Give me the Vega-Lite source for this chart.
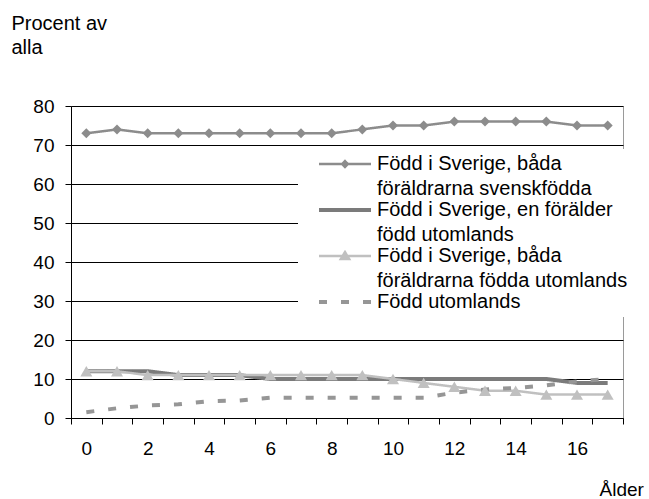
{
  "$schema": "https://vega.github.io/schema/vega-lite/v6.json",
  "width": 552,
  "height": 312,
  "autosize": {"type": "none"},
  "padding": {"left": 71, "top": 106, "right": 26, "bottom": 81},
  "background": "white",
  "config": {
    "font": "Liberation Sans",
    "view": {"stroke": "#9a9a9a", "strokeWidth": 1}
  },
  "data": {
    "values": [
      {"alder": 0, "Född i Sverige, båda föräldrarna svenskfödda": 73, "Född i Sverige, en förälder född utomlands": 12, "Född i Sverige, båda föräldrarna födda utomlands": 12, "Född utomlands": 1.5},
      {"alder": 1, "Född i Sverige, båda föräldrarna svenskfödda": 74, "Född i Sverige, en förälder född utomlands": 12, "Född i Sverige, båda föräldrarna födda utomlands": 12, "Född utomlands": 2.5},
      {"alder": 2, "Född i Sverige, båda föräldrarna svenskfödda": 73, "Född i Sverige, en förälder född utomlands": 12, "Född i Sverige, båda föräldrarna födda utomlands": 11, "Född utomlands": 3.2},
      {"alder": 3, "Född i Sverige, båda föräldrarna svenskfödda": 73, "Född i Sverige, en förälder född utomlands": 11, "Född i Sverige, båda föräldrarna födda utomlands": 11, "Född utomlands": 3.5},
      {"alder": 4, "Född i Sverige, båda föräldrarna svenskfödda": 73, "Född i Sverige, en förälder född utomlands": 11, "Född i Sverige, båda föräldrarna födda utomlands": 11, "Född utomlands": 4.3},
      {"alder": 5, "Född i Sverige, båda föräldrarna svenskfödda": 73, "Född i Sverige, en förälder född utomlands": 11, "Född i Sverige, båda föräldrarna födda utomlands": 11, "Född utomlands": 4.5},
      {"alder": 6, "Född i Sverige, båda föräldrarna svenskfödda": 73, "Född i Sverige, en förälder född utomlands": 10, "Född i Sverige, båda föräldrarna födda utomlands": 11, "Född utomlands": 5.2},
      {"alder": 7, "Född i Sverige, båda föräldrarna svenskfödda": 73, "Född i Sverige, en förälder född utomlands": 10, "Född i Sverige, båda föräldrarna födda utomlands": 11, "Född utomlands": 5.2},
      {"alder": 8, "Född i Sverige, båda föräldrarna svenskfödda": 73, "Född i Sverige, en förälder född utomlands": 10, "Född i Sverige, båda föräldrarna födda utomlands": 11, "Född utomlands": 5.2},
      {"alder": 9, "Född i Sverige, båda föräldrarna svenskfödda": 74, "Född i Sverige, en förälder född utomlands": 10, "Född i Sverige, båda föräldrarna födda utomlands": 11, "Född utomlands": 5.2},
      {"alder": 10, "Född i Sverige, båda föräldrarna svenskfödda": 75, "Född i Sverige, en förälder född utomlands": 10, "Född i Sverige, båda föräldrarna födda utomlands": 10, "Född utomlands": 5.2},
      {"alder": 11, "Född i Sverige, båda föräldrarna svenskfödda": 75, "Född i Sverige, en förälder född utomlands": 10, "Född i Sverige, båda föräldrarna födda utomlands": 9, "Född utomlands": 5.2},
      {"alder": 12, "Född i Sverige, båda föräldrarna svenskfödda": 76, "Född i Sverige, en förälder född utomlands": 10, "Född i Sverige, båda föräldrarna födda utomlands": 8, "Född utomlands": 6.5},
      {"alder": 13, "Född i Sverige, båda föräldrarna svenskfödda": 76, "Född i Sverige, en förälder född utomlands": 10, "Född i Sverige, båda föräldrarna födda utomlands": 7, "Född utomlands": 7.3},
      {"alder": 14, "Född i Sverige, båda föräldrarna svenskfödda": 76, "Född i Sverige, en förälder född utomlands": 10, "Född i Sverige, båda föräldrarna födda utomlands": 7, "Född utomlands": 7.7},
      {"alder": 15, "Född i Sverige, båda föräldrarna svenskfödda": 76, "Född i Sverige, en förälder född utomlands": 10, "Född i Sverige, båda föräldrarna födda utomlands": 6, "Född utomlands": 8.4},
      {"alder": 16, "Född i Sverige, båda föräldrarna svenskfödda": 75, "Född i Sverige, en förälder född utomlands": 9, "Född i Sverige, båda föräldrarna födda utomlands": 6, "Född utomlands": 9.4},
      {"alder": 17, "Född i Sverige, båda föräldrarna svenskfödda": 75, "Född i Sverige, en förälder född utomlands": 9, "Född i Sverige, båda föräldrarna födda utomlands": 6, "Född utomlands": 10}
    ]
  },
  "transform": [
    {"fold": ["Född i Sverige, båda föräldrarna svenskfödda", "Född i Sverige, en förälder född utomlands", "Född i Sverige, båda föräldrarna födda utomlands", "Född utomlands"], "as": ["grupp", "procent"]}
  ],
  "encoding": {
    "x": {
      "field": "alder",
      "type": "ordinal",
      "scale": {"type": "band", "paddingInner": 0, "paddingOuter": 0},
      "axis": {
        "title": "Ålder",
        "titleX": 528,
        "titleY": 77,
        "titleAlign": "left",
        "titleBaseline": "alphabetic",
        "titleFontSize": 19,
        "titleFontWeight": "normal",
        "titleColor": "black",
        "labelAngle": 0,
        "labelFontSize": 19,
        "labelColor": "black",
        "labelPadding": 15,
        "labelExpr": "datum.value % 2 === 0 ? datum.label : ''",
        "tickBand": "extent",
        "tickSize": 6,
        "tickColor": "black",
        "domainColor": "black",
        "grid": false
      }
    },
    "y": {
      "field": "procent",
      "type": "quantitative",
      "scale": {"domain": [0, 80], "nice": false},
      "axis": {
        "values": [0, 10, 20, 30, 40, 50, 60, 70, 80],
        "title": ["Procent av", "alla"],
        "titleAngle": 0,
        "titleAlign": "left",
        "titleBaseline": "alphabetic",
        "titleX": -60,
        "titleY": -77,
        "titleFontSize": 20,
        "titleFontWeight": "normal",
        "titleColor": "black",
        "titleLineHeight": 24,
        "labelFontSize": 19,
        "labelColor": "black",
        "labelPadding": 11,
        "tickSize": 6,
        "tickColor": "black",
        "domainColor": "black",
        "grid": true,
        "gridColor": "black",
        "gridOpacity": 1,
        "gridWidth": 1
      }
    }
  },
  "layer": [
    {
      "mark": {"type": "line"},
      "encoding": {
        "color": {
          "field": "grupp",
          "type": "nominal",
          "scale": {
            "domain": ["Född i Sverige, båda föräldrarna svenskfödda", "Född i Sverige, en förälder född utomlands", "Född i Sverige, båda föräldrarna födda utomlands", "Född utomlands"],
            "range": ["#8c8c8c", "#7b7b7b", "#c0c0c0", "#969696"]
          },
          "legend": {
            "title": null,
            "orient": "none",
            "legendX": 227,
            "legendY": 43,
            "fillColor": "white",
            "padding": 5,
            "symbolSize": 2704,
            "symbolOffset": 32,
            "symbolOpacity": 1,
            "labelOffset": 22,
            "labelFontSize": 20,
            "labelColor": "black",
            "labelLimit": 600,
            "labelBaseline": "middle",
            "rowPadding": 1,
            "labelExpr": "datum.label === 'Född i Sverige, båda föräldrarna svenskfödda' ? ['Född i Sverige, båda', 'föräldrarna svenskfödda'] : datum.label === 'Född i Sverige, en förälder född utomlands' ? ['Född i Sverige, en förälder', 'född utomlands'] : datum.label === 'Född i Sverige, båda föräldrarna födda utomlands' ? ['Född i Sverige, båda', 'föräldrarna födda utomlands'] : datum.label",
            "encode": {
              "symbols": {
                "update": {
                  "shape": {"signal": "datum.value === 'Född i Sverige, båda föräldrarna svenskfödda' ? 'M-1,0H1M-0.11,0L0,-0.11L0.11,0L0,0.11Z' : datum.value === 'Född i Sverige, båda föräldrarna födda utomlands' ? 'M-1,0H1M0,-0.15L0.16,0.12L-0.16,0.12Z' : 'M-1,0H1'"},
                  "fill": {"signal": "datum.value === 'Född i Sverige, båda föräldrarna svenskfödda' ? '#8c8c8c' : datum.value === 'Född i Sverige, båda föräldrarna födda utomlands' ? '#c0c0c0' : 'transparent'"},
                  "strokeWidth": {"signal": "datum.value === 'Född i Sverige, en förälder född utomlands' || datum.value === 'Född utomlands' ? 4 : 2.5"},
                  "strokeDash": {"signal": "datum.value === 'Född utomlands' ? [8, 14] : [1, 0]"}
                }
              },
              "labels": {
                "update": {
                  "lineHeight": {"value": 25}
                }
              }
            }
          }
        },
        "strokeDash": {
          "field": "grupp",
          "type": "nominal",
          "scale": {
            "domain": ["Född i Sverige, båda föräldrarna svenskfödda", "Född i Sverige, en förälder född utomlands", "Född i Sverige, båda föräldrarna födda utomlands", "Född utomlands"],
            "range": [[1, 0], [1, 0], [1, 0], [8, 14]]
          },
          "legend": null
        },
        "strokeWidth": {
          "condition": {"test": "datum.grupp === 'Född i Sverige, en förälder född utomlands' || datum.grupp === 'Född utomlands'", "value": 4},
          "value": 2.5
        }
      }
    },
    {
      "transform": [
        {"filter": {"field": "grupp", "oneOf": ["Född i Sverige, båda föräldrarna svenskfödda", "Född i Sverige, båda föräldrarna födda utomlands"]}}
      ],
      "mark": {"type": "point", "filled": true, "opacity": 1},
      "encoding": {
        "color": {
          "field": "grupp",
          "type": "nominal",
          "scale": {
            "domain": ["Född i Sverige, båda föräldrarna svenskfödda", "Född i Sverige, en förälder född utomlands", "Född i Sverige, båda föräldrarna födda utomlands", "Född utomlands"],
            "range": ["#8c8c8c", "#7b7b7b", "#c0c0c0", "#969696"]
          },
          "legend": null
        },
        "shape": {
          "field": "grupp",
          "type": "nominal",
          "scale": {
            "domain": ["Född i Sverige, båda föräldrarna svenskfödda", "Född i Sverige, båda föräldrarna födda utomlands"],
            "range": ["diamond", "triangle-up"]
          },
          "legend": null
        },
        "size": {
          "condition": {"test": "datum.grupp === 'Född i Sverige, båda föräldrarna födda utomlands'", "value": 144},
          "value": 100
        }
      }
    }
  ]
}
